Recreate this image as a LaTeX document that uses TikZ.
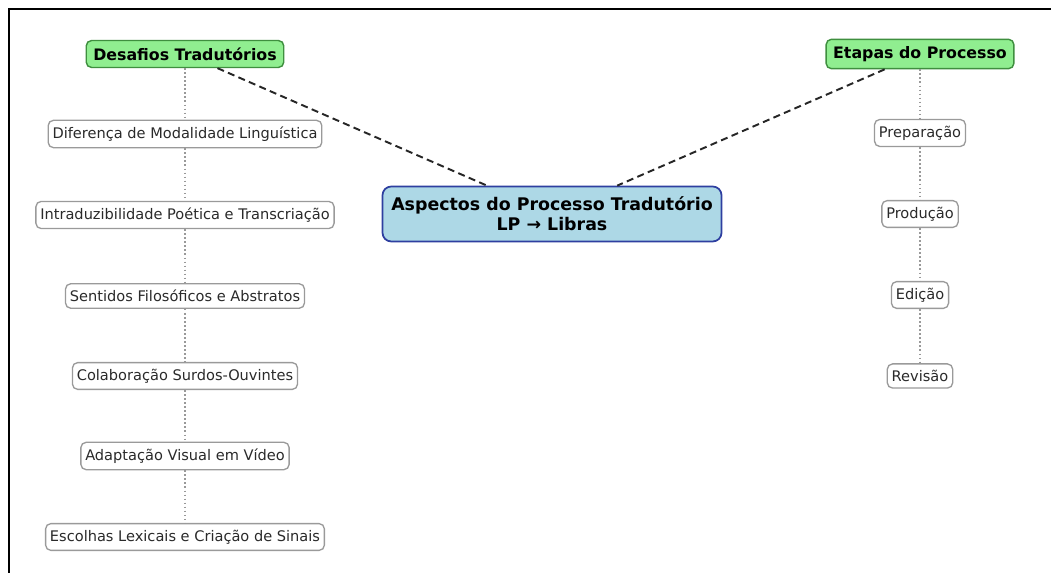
\documentclass[tikz,border=0pt]{standalone}
\usepackage{fontspec}
\setmainfont{DejaVu Sans}
\definecolor{hdrfill}{HTML}{90EE90}
\definecolor{hdrdraw}{HTML}{3F8F3F}
\definecolor{ctrfill}{HTML}{ADD8E6}
\definecolor{ctrdraw}{HTML}{2E3FA0}
\definecolor{itemdraw}{HTML}{9A9A9A}
\definecolor{itemtext}{HTML}{2A2A2A}
\definecolor{dotgray}{HTML}{999999}
\begin{document}
\begin{tikzpicture}[x=0.02cm,y=-0.02cm,
  hdr/.style={draw=hdrdraw, fill=hdrfill, rounded corners=3pt, line width=0.8pt, font=\bfseries\fontsize{9}{11}\selectfont, inner xsep=4pt, inner ysep=4pt},
  ctr/.style={draw=ctrdraw, fill=ctrfill, rounded corners=5pt, line width=1pt, font=\bfseries\fontsize{9.9}{11.4}\selectfont, align=center, inner xsep=5pt, inner ysep=3pt, minimum width=339*0.02cm, minimum height=55*0.02cm},
  item/.style={draw=itemdraw, fill=white, rounded corners=3pt, line width=0.75pt, font=\fontsize{8.3}{10}\selectfont, text=itemtext, inner xsep=2.5pt, inner ysep=3.6pt},
  dashlink/.style={draw=black!85, dash pattern=on 4pt off 2.5pt, line width=1.1pt},
  dotlink/.style={draw=dotgray, dash pattern=on 0.9pt off 1.4pt, line width=1pt}]
\useasboundingbox (0,0) rectangle (1051,573);
\fill[white] (0,0) rectangle (1051,573);
\draw[line width=0.9pt] (9,573) -- (9,9) -- (1051,9);
% headers
\node[hdr] (des) at (185,54) {Desafios Tradutórios};
\node[hdr] (eta) at (920,54) {Etapas do Processo};
\node[ctr] (cen) at (552,214) {Aspectos do Processo Tradutório\\LP → Libras};
% left items
\node[item] (l1) at (185,134) {Diferença de Modalidade Linguística};
\node[item] (l2) at (185,215) {Intraduzibilidade Poética e Transcriação};
\node[item] (l3) at (185,296) {Sentidos Filosóficos e Abstratos};
\node[item] (l4) at (185,376) {Colaboração Surdos-Ouvintes};
\node[item] (l5) at (185,456) {Adaptação Visual em Vídeo};
\node[item] (l6) at (185,537) {Escolhas Lexicais e Criação de Sinais};
% right items
\node[item] (r1) at (920,133) {Preparação};
\node[item] (r2) at (920,214) {Produção};
\node[item] (r3) at (920,295) {Edição};
\node[item] (r4) at (920,376) {Revisão};
% links
\draw[dashlink] (des) -- (cen);
\draw[dashlink] (eta) -- (cen);
\draw[dotlink] (des) -- (l1);
\draw[dotlink] (l1) -- (l2);
\draw[dotlink] (l2) -- (l3);
\draw[dotlink] (l3) -- (l4);
\draw[dotlink] (l4) -- (l5);
\draw[dotlink] (l5) -- (l6);
\draw[dotlink] (eta) -- (r1);
\draw[dotlink] (r1) -- (r2);
\draw[dotlink] (r2) -- (r3);
\draw[dotlink] (r3) -- (r4);
\end{tikzpicture}
\end{document}
